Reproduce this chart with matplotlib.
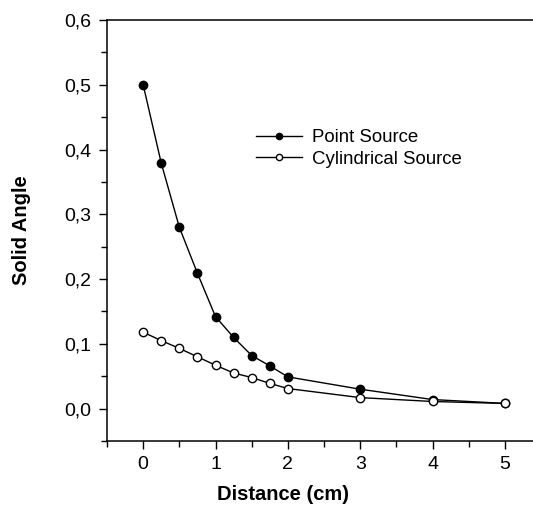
import matplotlib
matplotlib.use("Agg")
import matplotlib.pyplot as plt
from matplotlib.ticker import MultipleLocator, FuncFormatter

plt.rcParams['font.family'] = ['Liberation Sans', 'DejaVu Sans']

distance = [0, 0.25, 0.5, 0.75, 1.0, 1.25, 1.5, 1.75, 2.0, 3.0, 4.0, 5.0]
point_source = [0.500, 0.379, 0.280, 0.209, 0.142, 0.110, 0.082, 0.066, 0.049, 0.030, 0.014, 0.008]
cyl_source = [0.118, 0.105, 0.093, 0.080, 0.067, 0.055, 0.048, 0.039, 0.031, 0.017, 0.011, 0.008]

fig = plt.figure(figsize=(5.33, 5.07), dpi=100)
# axes run a bit past the right edge, like the cropped original
ax = fig.add_axes([107/533, 1 - 441/507, (541 - 107)/533, (441 - 20)/507])

ax.plot(distance, point_source, '-o', color='black', lw=1.0, ms=6,
        mfc='black', mec='black', label='Point Source')
ax.plot(distance, cyl_source, '-o', color='black', lw=1.0, ms=6,
        mfc='white', mec='black', mew=1.0, label='Cylindrical Source')

ax.set_xlim(-0.5, 5.5)
ax.set_ylim(-0.05, 0.6)
ax.xaxis.set_major_locator(MultipleLocator(1))
ax.xaxis.set_minor_locator(MultipleLocator(0.5))
ax.yaxis.set_major_locator(MultipleLocator(0.1))
ax.yaxis.set_minor_locator(MultipleLocator(0.05))
ax.yaxis.set_major_formatter(FuncFormatter(lambda v, p: f"{v:.1f}".replace('.', ',').replace('-0,0', '0,0')))

ax.tick_params(which='major', direction='out', length=6, width=1.0, labelsize=14, pad=5)
ax.tick_params(which='minor', direction='out', length=4, width=1.0)
for s in ax.spines.values():
    s.set_linewidth(1.1)
ax.spines['right'].set_visible(False)

ax.set_xlabel('Distance (cm)', fontsize=14.5, fontweight='bold')
ax.set_ylabel('Solid Angle', fontsize=14.5, fontweight='bold')
ax.xaxis.set_label_coords(0.405, -0.105)
ax.yaxis.set_label_coords(-0.175, 0.5)

ax.legend(loc='center left', bbox_to_anchor=(0.343, 0.695), frameon=False,
          fontsize=13.4, handlelength=2.5, handletextpad=0.5, labelspacing=0.25,
          borderpad=0, borderaxespad=0, markerscale=0.75)

fig.savefig('out.png', dpi=100)
